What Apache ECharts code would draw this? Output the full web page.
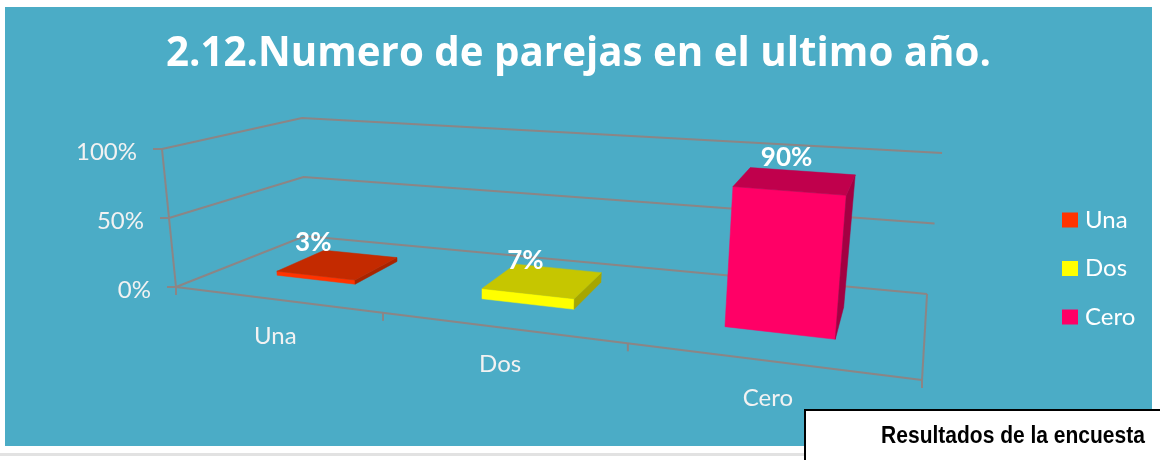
<!DOCTYPE html>
<html><head><meta charset="utf-8">
<script src="https://cdn.jsdelivr.net/npm/echarts@6/dist/echarts.min.js"></script>
<style>html,body{margin:0;padding:0;background:#fff}#c{width:1160px;height:460px}</style>
</head><body><div id="c"></div>
<script>
// ---- data ----
const titleText = '2.12.Numero de parejas en el ultimo año.';
const categories = ['Una', 'Dos', 'Cero'];
const values = [3, 7, 90];
const yTicks = [0, 50, 100];
const noteText = 'Resultados de la encuesta';

// ---- styles ----
const faceColors = [
  {front:'#FF3300', top:'#C42A00', side:'#A82400'},
  {front:'#FFFF00', top:'#C6C600', side:'#A6A600'},
  {front:'#FF0066', top:'#C0004C', side:'#A30042'}
];
const GRID = '#8C8585';
const LABEL = '#F2F2F2';
const FONT = 'Lato';

// ---- pseudo-3D projection (X across, Y up, Z depth; all 0..1) ----
function frontEdge(X){ const x=(532.2*X+176)/(1-0.2319*X); return [x, 287+(x-176)*93/746]; }
function backEdge(X){ const x=(412.9*X+305)/(1-0.2256*X); return [x, 236+(x-305)*58/622]; }
function depth(Z){ return Z*1.284/(1+0.284*Z); }
const VFL=[-14,-138], VFR=[14.5,-175.4], VBL=[-3,-118], VBR=[15,-141];
function lerp(a,b,t){ return [a[0]+(b[0]-a[0])*t, a[1]+(b[1]-a[1])*t]; }
function P(X,Y,Z){
  const s=depth(Z), f=frontEdge(X), b=backEdge(X);
  const fl=lerp(f,b,s);
  const v=lerp(lerp(VFL,VFR,X), lerp(VBL,VBR,X), s);
  return [fl[0]+Y*v[0], fl[1]+Y*v[1]];
}
function normX(cs, px){ return (px-cs.x)/cs.width; }
function normY(cs, py){ return (cs.y+cs.height-py)/cs.height; }

const lineStyle = {stroke: GRID, lineWidth: 2, fill: 'none'};
function seg(a,b){ return {type:'line', shape:{x1:a[0],y1:a[1],x2:b[0],y2:b[1]}, style: lineStyle}; }

function renderWalls(params, api){
  const cs = params.coordSys;
  const val = api.value(1);
  const Y = normY(cs, api.coord([0, val])[1]);
  const ch = [];
  ch.push({type:'polyline', shape:{points:[P(0,Y,0),P(0,Y,1),P(1,Y,1)]}, style: lineStyle});
  const a = P(0,Y,0);
  ch.push(seg(a, [a[0]-9, a[1]]));
  ch.push({type:'text', x: a[0]-25, y: a[1]+3, style:{text: val + '%', fill: LABEL,
    fontSize: 24, fontFamily: FONT, align:'right', verticalAlign:'middle'}});
  if (params.dataIndex === 0) {
    const Ymax = normY(cs, api.coord([0, yTicks[yTicks.length-1]])[1]);
    ch.push(seg(P(0,0,0), P(1,0,0)));
    ch.push(seg(P(1,0,0), P(1,0,1)));
    ch.push(seg(P(0,0,0), P(0,Ymax,0)));
  }
  return {type:'group', children: ch};
}

function renderCategory(params, api){
  const cs = params.coordSys;
  const idx = api.value(0);
  const c = api.coord([idx, 0]);
  const bw = api.size([1, 0])[0];
  const ch = [];
  const Xl = normX(cs, c[0]-bw/2), Xc = normX(cs, c[0]), Xr = normX(cs, c[0]+bw/2);
  const tl = P(Xl,0,0);
  ch.push(seg(tl, [tl[0], tl[1]+8]));
  if (params.dataIndex === categories.length-1) {
    const tr = P(Xr,0,0);
    ch.push(seg(tr, [tr[0], tr[1]+8]));
  }
  const lc = P(Xc,0,0);
  ch.push({type:'text', x: lc[0], y: lc[1]+37, style:{text: categories[idx], fill: LABEL,
    fontSize: 24, fontFamily: FONT, align:'center', verticalAlign:'middle'}});
  return {type:'group', children: ch};
}

function makeBarRenderer(colorSet){
  return function(params, api){
    const cs = params.coordSys;
    const idx = api.value(0), val = api.value(1);
    const c = api.coord([idx, val]);
    const bw = api.size([1, 0])[0];
    const X0 = normX(cs, c[0]-0.2*bw), X1 = normX(cs, c[0]+0.2*bw), Xc = normX(cs, c[0]);
    const Y = normY(cs, c[1]);
    const Z0 = 0.3, Z1 = 0.7;
    const poly = (pts, fill) => ({type:'polygon', shape:{points: pts}, style:{fill, stroke: fill, lineWidth: 0.5}});
    const lab = P(Xc, Y, Z0);
    return {type:'group', children:[
      poly([P(X0,0,Z0),P(X1,0,Z0),P(X1,Y,Z0),P(X0,Y,Z0)], colorSet.front),
      poly([P(X1,0,Z0),P(X1,0,Z1),P(X1,Y,Z1),P(X1,Y,Z0)], colorSet.side),
      poly([P(X0,Y,Z0),P(X1,Y,Z0),P(X1,Y,Z1),P(X0,Y,Z1)], colorSet.top),
      {type:'text', x: lab[0]-2, y: lab[1]-33, style:{text: val + '%', fill:'#FFFFFF',
        fontSize: 26, fontWeight:'bold', fontFamily: FONT, align:'center', verticalAlign:'middle'}}
    ]};
  };
}

const mctx = document.createElement('canvas').getContext('2d');
function widthOf(t, font){ mctx.font = font; return mctx.measureText(t).width; }
const TITLE_FONT = 'Open Sans';
const titleScale = 825 / widthOf(titleText, 'bold 42px "' + TITLE_FONT + '"');

const series = [
  {type:'custom', name:'__walls', z:1, silent:true, renderItem: renderWalls,
   data: yTicks.map(t => [0, t]), encode:{x:0, y:1}},
  {type:'custom', name:'__cats', z:1, silent:true, renderItem: renderCategory,
   data: categories.map((c,i) => [i, 0]), encode:{x:0, y:1}}
];
categories.forEach((c, i) => {
  series.push({type:'custom', name: c, z:3, renderItem: makeBarRenderer(faceColors[i]),
    itemStyle:{color: faceColors[i].front},
    data: [[i, values[i]]], encode:{x:0, y:1}});
});

const chart = echarts.init(document.getElementById('c'));
chart.setOption({
  animation: false,
  backgroundColor: '#FFFFFF',
  grid: {left:160, top:152, width:760, height:138},
  xAxis: {type:'category', data: categories, show: false},
  yAxis: {type:'value', min: 0, max: 100, interval: 50, show: false},
  legend: {data: categories, orient:'vertical', left: 1057, top: 203, icon:'rect',
    itemWidth: 16, itemHeight: 15, itemGap: 24.5, selectedMode: false,
    textStyle:{color:'#FFFFFF', fontSize: 24, fontFamily: FONT, lineHeight: 24, padding:[0,0,0,2]}},
  graphic: [
    {type:'rect', z:-10, shape:{x:5, y:7, width:1147, height:439}, style:{fill:'#4BACC6'}},
    {type:'rect', z:-10, shape:{x:0, y:453, width:805, height:3}, style:{fill:'#E2E2E2'}},
    {type:'text', z:10, x: 578.5, y: 54, scaleX: titleScale,
     style:{text: titleText, fill:'#FFFFFF', fontSize: 42, fontWeight:'bold', fontFamily: TITLE_FONT,
       align:'center', verticalAlign:'middle'}},
    {type:'rect', z:50, shape:{x:805, y:410, width:400, height:100}, style:{fill:'#FFFFFF', stroke:'#000000', lineWidth:2}},
    {type:'text', z:51, x: 1013, y: 436, scaleY: 1.15,
     style:{text: noteText, fill:'#000000', fontSize: 21, fontWeight:'bold', fontFamily:'Liberation Sans',
       align:'center', verticalAlign:'middle'}}
  ],
  series
});
</script></body></html>
